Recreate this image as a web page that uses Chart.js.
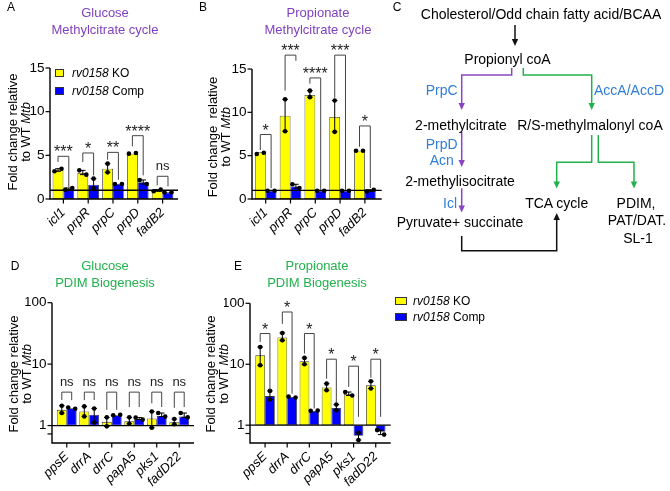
<!DOCTYPE html>
<html><head><meta charset="utf-8">
<script src="https://cdn.jsdelivr.net/npm/chart.js@4.4.1/dist/chart.umd.min.js"></script>
<style>
html,body{margin:0;padding:0;background:#fff;}
#wrap{position:relative;width:670px;height:491px;overflow:hidden;font-family:"Liberation Sans",Arial,sans-serif;color:#000;}
canvas.full{position:absolute;left:0;top:0;}
.t{position:absolute;transform:translate(-50%,-50%);white-space:nowrap;line-height:1;}
.ttl{font-size:13px;}
.lbl{font-size:12px;}
.ytl{position:absolute;width:200px;height:26px;font-size:13px;line-height:12.5px;text-align:center;transform:rotate(-90deg);white-space:pre;}
.leg{position:absolute;font-size:12px;line-height:1;}
.leg .row{display:flex;align-items:center;white-space:nowrap;}
.leg .box{box-sizing:border-box;border:1px solid #333;}
</style></head><body>
<div id="wrap">
<canvas id="cA" class="full" width="670" height="491"></canvas>
<canvas id="cB" class="full" width="670" height="491"></canvas>
<canvas id="cD" class="full" width="670" height="491"></canvas>
<canvas id="cE" class="full" width="670" height="491"></canvas>

<div class="t lbl" style="left:11px;top:7px">A</div>
<div class="t lbl" style="left:203px;top:7px">B</div>
<div class="t lbl" style="left:397px;top:7px">C</div>
<div class="t lbl" style="left:15px;top:266px">D</div>
<div class="t lbl" style="left:238px;top:266px">E</div>

<div class="t ttl" style="left:105px;top:12px;color:#7F3FBF">Glucose</div>
<div class="t ttl" style="left:105px;top:29px;color:#7F3FBF">Methylcitrate cycle</div>
<div class="t ttl" style="left:318px;top:12px;color:#7F3FBF">Propionate</div>
<div class="t ttl" style="left:318px;top:29px;color:#7F3FBF">Methylcitrate cycle</div>
<div class="t ttl" style="left:105px;top:265px;color:#22B14C">Glucose</div>
<div class="t ttl" style="left:105px;top:282px;color:#22B14C">PDIM Biogenesis</div>
<div class="t ttl" style="left:317px;top:265px;color:#22B14C">Propionate</div>
<div class="t ttl" style="left:317px;top:282px;color:#22B14C">PDIM Biogenesis</div>

<div class="ytl" style="left:-80px;top:119px">Fold change relative<br>to WT <i>Mtb</i></div>
<div class="ytl" style="left:120px;top:124px">Fold change  relative<br>to WT <i>Mtb</i></div>
<div class="ytl" style="left:-79px;top:361px">Fold change relative<br>to WT <i>Mtb</i></div>
<div class="ytl" style="left:118px;top:361px">Fold change relative<br>to WT <i>Mtb</i></div>

<div id="legA" class="leg" style="left:55px;top:64px"></div>
<div id="legE" class="leg" style="left:395px;top:293px"></div>

<svg width="670" height="491" style="position:absolute;left:0;top:0" font-family="Liberation Sans, Arial, sans-serif" font-size="14">
 <g fill="none" stroke-width="1.5">
  <path d="M515,25 V39.5" stroke="#111"/>
  <path d="M511.7,68 V75 H461.7 V103.5" stroke="#8A45C5"/>
  <path d="M523.3,68 V75 H591.7 V103.5" stroke="#22B14C"/>
  <path d="M461.7,132 V160.5" stroke="#8A45C5"/>
  <path d="M461.7,188.3 V206" stroke="#8A45C5"/>
  <path d="M591.7,135 V162.3 H556.7 V182" stroke="#22B14C"/>
  <path d="M598.3,135 V162.3 H634 V182" stroke="#22B14C"/>
  <path d="M461.7,236 V250.7 H556.7 V219.5" stroke="#111"/>
 </g>
 <g stroke="none">
  <polygon points="511.8,39 518.2,39 515,46" fill="#111"/>
  <polygon points="458.5,103 464.9,103 461.7,110" fill="#8A45C5"/>
  <polygon points="588.5,103 594.9,103 591.7,110" fill="#22B14C"/>
  <polygon points="458.5,160 464.9,160 461.7,167" fill="#8A45C5"/>
  <polygon points="458.5,205.5 464.9,205.5 461.7,212.5" fill="#8A45C5"/>
  <polygon points="553.5,181.5 559.9,181.5 556.7,188.5" fill="#22B14C"/>
  <polygon points="630.8,181.5 637.2,181.5 634,188.5" fill="#22B14C"/>
  <polygon points="553.5,220 559.9,220 556.7,213" fill="#111"/>
 </g>
 <g text-anchor="middle" dominant-baseline="central" fill="#000">
  <text x="541" y="13.5">Cholesterol/Odd chain fatty acid/BCAA</text>
  <text x="507.5" y="59">Propionyl coA</text>
  <text x="461" y="125">2-methylcitrate</text>
  <text x="590" y="125">R/S-methylmalonyl coA</text>
  <text x="460" y="181">2-methylisocitrate</text>
  <text x="460" y="222">Pyruvate+ succinate</text>
  <text x="556.7" y="203">TCA cycle</text>
  <text x="636" y="203">PDIM,</text>
  <text x="637" y="220">PAT/DAT.</text>
  <text x="638" y="237.5">SL-1</text>
 </g>
 <g text-anchor="middle" dominant-baseline="central" fill="#2F7ED8">
  <text x="441.7" y="90">PrpC</text>
  <text x="629" y="90">AccA/AccD</text>
  <text x="441.7" y="144">PrpD</text>
  <text x="441.7" y="160">Acn</text>
  <text x="450" y="203">Icl</text>
 </g>
</svg>
</div>

<script>
// ---------- data ----------
const strain = 'rv0158';
const seriesLabels = ['KO', 'Comp'];
const seriesColors = ['#FFFF00', '#0000FF'];

const mcGenes = ['icl1', 'prpR', 'prpC', 'prpD', 'fadB2'];
const pdimGenes = ['ppsE', 'drrA', 'drrC', 'papA5', 'pks1', 'fadD22'];

const linTicks = [0, 5, 10, 15];
const logTicks = [1, 10, 100];
const logMinorTicks = [0.73];

// A: Glucose – methylcitrate cycle
const glcMcKO = [3.33, 2.98, 3.47, 5.19, 0.99];
const glcMcComp = [1.15, 1.64, 1.76, 1.91, 0.76];
const glcMcKOPts = [[3.17, 3.47], [3.28, 2.79], [4.05, 3.05], [5.19, 5.27], [0.88, 1.07]];
const glcMcCompPts = [[1.07, 1.26], [2.33, 1.26], [1.72, 1.72], [2.18, 1.72], [0.76, 0.76]];
const glcMcSig = ['***', '*', '**', '****', 'ns'];
const glcMcSigTop = [4.89, 5.27, 5.34, 7.25, 2.6];
const glcMcSigLeft = [4.24, 4.24, 4.5, 6.03, 1.56];
const glcMcSigRight = [1.34, 2.71, 2.21, 2.71, 1.45];

// B: Propionate – methylcitrate cycle
const proMcKO = [5.38, 9.62, 12.0, 9.47, 5.57];
const proMcComp = [0.95, 1.45, 0.95, 0.95, 0.98];
const proMcKOPts = [[5.19, 5.34], [11.5, 7.82], [12.5, 11.75], [11.37, 7.75], [5.57, 5.57]];
const proMcCompPts = [[0.95, 0.95], [1.7, 1.26], [0.95, 0.95], [0.95, 0.95], [0.88, 1.07]];
const proMcSig = ['*', '***', '****', '***', '*'];
const proMcSigTop = [7.44, 16.6, 13.97, 16.6, 8.43];
const proMcSigLeft = [5.65, 12.5, 13.3, 11.68, 6.03];
const proMcSigRight = [1.26, 15.95, 1.07, 1.07, 1.26];

// D: Glucose – PDIM biogenesis
const glcPdimKO = [1.8, 1.7, 1.15, 1.17, 1.3, 1.13];
const glcPdimComp = [1.92, 1.5, 1.47, 1.28, 1.43, 1.4];
const glcPdimKOPts = [[2.1, 1.6], [2.05, 1.41], [1.36, 0.97], [1.36, 1.07], [1.69, 0.92], [1.28, 1.05]];
const glcPdimCompPts = [[1.97, 1.88], [1.9, 1.12], [1.47, 1.5], [1.35, 1.25], [1.6, 1.4], [1.6, 1.36]];
const glcPdimSig = ['ns', 'ns', 'ns', 'ns', 'ns', 'ns'];
const glcPdimSigTop = [3.5, 3.5, 3.5, 3.5, 3.5, 3.5];
const glcPdimSigLeft = [2.6, 2.6, 1.8, 2.0, 2.3, 1.95];
const glcPdimSigRight = [2.6, 2.6, 1.8, 2.0, 2.0, 2.0];

// E: Propionate – PDIM biogenesis
const proPdimKO = [14.0, 27.4, 11.2, 4.15, 3.26, 4.5];
const proPdimComp = [3.0, 2.9, 1.72, 1.92, 0.67, 0.78];
const proPdimKOPts = [[19.2, 9.6], [32.5, 24.7], [12.7, 10.0], [4.8, 3.75], [3.5, 3.07], [5.25, 4.0]];
const proPdimCompPts = [[3.65, 2.64], [2.95, 2.85], [1.72, 1.74], [2.18, 1.76], [0.75, 0.57], [0.83, 0.70]];
const proPdimSig = ['*', '*', '*', '*', '*', '*'];
const proPdimSigTop = [31.9, 72, 31.9, 12.1, 9.3, 12.1];
const proPdimSigLeft = [23.3, 46, 15, 5.8, 4.25, 6.0];
const proPdimSigRight = [3.75, 3.3, 1.88, 2.35, 1.37, 1.37];

// ---------- drawing ----------
Chart.defaults.font.family = '"Liberation Sans", Arial, sans-serif';
Chart.defaults.font.size = 13;
Chart.defaults.color = '#000';

function seg(ctx, x1, y1, x2, y2) { ctx.beginPath(); ctx.moveTo(x1, y1); ctx.lineTo(x2, y2); ctx.stroke(); }

const panelPlugin = {
  id: 'panel',
  afterDatasetsDraw(chart, args, o) {
    const { ctx, chartArea: ca } = chart;
    const x = chart.scales.x, y = chart.scales.y;
    const axX = ca.left - o.gapL, axEnd = ca.right + o.gapR;
    ctx.save();
    ctx.strokeStyle = '#000'; ctx.fillStyle = '#000';
    ctx.lineWidth = 1.3;
    const y1 = y.getPixelForValue(1);
    seg(ctx, axX, y1, axEnd, y1);
    ctx.lineWidth = 1.4;
    ctx.beginPath(); ctx.moveTo(axX, ca.top); ctx.lineTo(axX, ca.bottom); ctx.lineTo(axEnd, ca.bottom); ctx.stroke();
    ctx.lineWidth = 1.2;
    o.yTickValues.forEach(v => { const p = y.getPixelForValue(v); seg(ctx, axX - 4.5, p, axX, p); });
    x.ticks.forEach((t, i) => { const p = x.getPixelForTick(i); seg(ctx, p, ca.bottom, p, ca.bottom + 4.5); });
    o.points.forEach((set, di) => {
      const meta = chart.getDatasetMeta(di);
      meta.data.forEach((bar, i) => {
        const ps = set[i].map(v => y.getPixelForValue(v));
        const lo = Math.max(...ps), hi = Math.min(...ps);
        ctx.lineWidth = 1;
        if (lo - hi > 1.5) {
          seg(ctx, bar.x, lo, bar.x, hi);
          seg(ctx, bar.x - 2.8, lo, bar.x + 2.8, lo);
          seg(ctx, bar.x - 2.8, hi, bar.x + 2.8, hi);
        }
        const spread = (lo - hi) < 5 ? 3.5 : 0;
        ps.forEach((p, k) => {
          ctx.beginPath(); ctx.arc(bar.x + (k ? spread : -spread), p, 2.3, 0, Math.PI * 2); ctx.fill();
        });
      });
    });
    const m0 = chart.getDatasetMeta(0), m1 = chart.getDatasetMeta(1);
    ctx.strokeStyle = '#444'; ctx.lineWidth = 1;
    ctx.textAlign = 'center'; ctx.textBaseline = 'alphabetic';
    o.sig.forEach((lab, i) => {
      const xl = m0.data[i].x, xr = m1.data[i].x;
      const yt = y.getPixelForValue(o.sigTop[i]);
      ctx.beginPath();
      ctx.moveTo(xl, y.getPixelForValue(o.sigLeft[i]));
      ctx.lineTo(xl, yt); ctx.lineTo(xr, yt);
      ctx.lineTo(xr, y.getPixelForValue(o.sigRight[i]));
      ctx.stroke();
      ctx.fillStyle = '#222';
      if (lab === 'ns') {
        ctx.font = '13px "Liberation Sans", Arial, sans-serif';
        ctx.fillText(lab, (xl + xr) / 2, yt - 6.5);
      } else {
        ctx.font = '16px "Liberation Sans", Arial, sans-serif';
        ctx.fillText(lab, (xl + xr) / 2, yt + 1);
      }
    });
    ctx.restore();
  }
};

function makeChart(id, c) {
  const yW = 30, xH = 45;
  const wrap = v => c.floating ? v.map(d => [1, d]) : v;
  new Chart(document.getElementById(id), {
    type: 'bar',
    data: {
      labels: c.labels,
      datasets: [c.ko, c.comp].map((vals, k) => ({
        label: strain + ' ' + seriesLabels[k],
        data: wrap(vals),
        backgroundColor: seriesColors[k],
        borderColor: '#333',
        borderWidth: 0.8,
        borderSkipped: false,
        categoryPercentage: c.catPct,
        barPercentage: 1.0
      }))
    },
    options: {
      responsive: false,
      animation: false,
      events: [],
      layout: { padding: { left: c.area.left - yW, right: 670 - c.area.right, top: c.area.top, bottom: 491 - c.area.bottom - xH } },
      plugins: {
        legend: { display: false },
        tooltip: { enabled: false },
        panel: {
          gapL: c.gapL, gapR: c.gapR, yTickValues: c.tickMarks,
          points: [c.koPts, c.compPts],
          sig: c.sig, sigTop: c.sigTop, sigLeft: c.sigLeft, sigRight: c.sigRight
        }
      },
      scales: {
        x: {
          grid: { display: false, drawTicks: false },
          border: { display: false },
          ticks: { font: { style: 'italic', size: 13 }, color: '#000', minRotation: 45, maxRotation: 45, padding: 6, autoSkip: false },
          afterFit: s => { s.height = xH; }
        },
        y: {
          type: c.yType, min: c.yMin, max: c.yMax,
          grid: { display: false, drawTicks: false },
          border: { display: false },
          ticks: { color: '#000', font: { size: 13.5 }, padding: c.gapL + 5.5, callback: v => String(v) },
          afterBuildTicks: s => { s.ticks = c.yTicks.map(v => ({ value: v })); },
          afterFit: s => { s.width = yW; }
        }
      }
    },
    plugins: [panelPlugin]
  });
}

makeChart('cA', {
  labels: mcGenes, ko: glcMcKO, comp: glcMcComp, koPts: glcMcKOPts, compPts: glcMcCompPts,
  sig: glcMcSig, sigTop: glcMcSigTop, sigLeft: glcMcSigLeft, sigRight: glcMcSigRight,
  area: { left: 51, right: 175, top: 68, bottom: 199 }, gapL: 1, gapR: 3,
  yType: 'linear', yMin: 0, yMax: 15, yTicks: linTicks, tickMarks: linTicks, catPct: 0.87, floating: false
});
makeChart('cB', {
  labels: mcGenes, ko: proMcKO, comp: proMcComp, koPts: proMcKOPts, compPts: proMcCompPts,
  sig: proMcSig, sigTop: proMcSigTop, sigLeft: proMcSigLeft, sigRight: proMcSigRight,
  area: { left: 253.3, right: 377.3, top: 69, bottom: 199 }, gapL: 1.3, gapR: 4.4,
  yType: 'linear', yMin: 0, yMax: 15, yTicks: linTicks, tickMarks: linTicks, catPct: 0.87, floating: false
});
makeChart('cD', {
  labels: pdimGenes, ko: glcPdimKO, comp: glcPdimComp, koPts: glcPdimKOPts, compPts: glcPdimCompPts,
  sig: glcPdimSig, sigTop: glcPdimSigTop, sigLeft: glcPdimSigLeft, sigRight: glcPdimSigRight,
  area: { left: 55.5, right: 190.5, top: 302.7, bottom: 443 }, gapL: 3.5, gapR: 3.5,
  yType: 'logarithmic', yMin: 0.52, yMax: 100, yTicks: logTicks, tickMarks: logTicks.concat(logMinorTicks), catPct: 0.88, floating: true
});
makeChart('cE', {
  labels: pdimGenes, ko: proPdimKO, comp: proPdimComp, koPts: proPdimKOPts, compPts: proPdimCompPts,
  sig: proPdimSig, sigTop: proPdimSigTop, sigLeft: proPdimSigLeft, sigRight: proPdimSigRight,
  area: { left: 254, right: 386.8, top: 303.3, bottom: 443 }, gapL: 4, gapR: 3.9,
  yType: 'logarithmic', yMin: 0.51, yMax: 100, yTicks: logTicks, tickMarks: logTicks.concat(logMinorTicks), catPct: 0.88, floating: true
});

function buildLegend(id, boxW, boxH, rowH, gap) {
  const el = document.getElementById(id);
  seriesLabels.forEach((s, k) => {
    const row = document.createElement('div');
    row.className = 'row';
    row.style.height = rowH + 'px';
    row.innerHTML = '<span class="box" style="width:' + boxW + 'px;height:' + boxH + 'px;background:' + seriesColors[k] + '"></span>' +
      '<span style="margin-left:' + gap + 'px"><i>' + strain + '</i> ' + s + '</span>';
    el.appendChild(row);
  });
}
buildLegend('legA', 9, 8, 18, 8);
buildLegend('legE', 12, 8, 16, 6);
</script>
</body></html>
